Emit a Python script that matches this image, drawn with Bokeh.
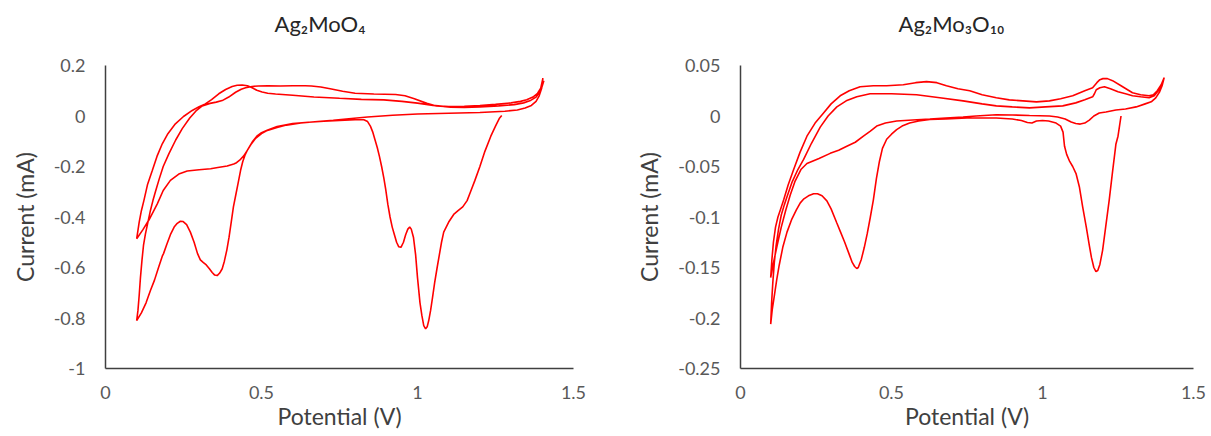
from bokeh.plotting import figure
from bokeh.layouts import row
from bokeh.models import Range1d, FixedTicker, Title
from bokeh.embed import file_html
from bokeh.resources import INLINE

# ---------------- data: Ag2MoO4 (potential V, current mA) ----------------
mo4_cathodic_1 = [
    (1.27, 0.002), (1.262, -0.01), (1.25, -0.04), (1.235, -0.08), (1.216, -0.14), (1.2, -0.2),
    (1.184, -0.255), (1.17, -0.3), (1.159, -0.335), (1.145, -0.36), (1.13, -0.375), (1.116, -0.39),
    (1.1, -0.42), (1.084, -0.46), (1.077, -0.5), (1.07, -0.55), (1.063, -0.6), (1.055, -0.66),
    (1.048, -0.72), (1.042, -0.77), (1.036, -0.81), (1.031, -0.835), (1.026, -0.843), (1.02, -0.83),
    (1.014, -0.79), (1.008, -0.74), (1.0, -0.64), (0.994, -0.55), (0.987, -0.48), (0.98, -0.448),
    (0.975, -0.44), (0.969, -0.448), (0.962, -0.47), (0.955, -0.5), (0.947, -0.52), (0.94, -0.518),
    (0.933, -0.5), (0.926, -0.47), (0.919, -0.44), (0.912, -0.4), (0.905, -0.35), (0.898, -0.29),
    (0.892, -0.245), (0.885, -0.2), (0.878, -0.16), (0.871, -0.125), (0.864, -0.095), (0.857, -0.065),
    (0.849, -0.04), (0.84, -0.022), (0.828, -0.015), (0.8, -0.015), (0.75, -0.018), (0.7, -0.021),
    (0.65, -0.025), (0.6, -0.03), (0.55, -0.042), (0.52, -0.055), (0.5, -0.066), (0.485, -0.08),
    (0.472, -0.1), (0.462, -0.12), (0.454, -0.137), (0.447, -0.155), (0.44, -0.18), (0.433, -0.215),
    (0.426, -0.26), (0.418, -0.31), (0.41, -0.36), (0.403, -0.42), (0.396, -0.48), (0.389, -0.53),
    (0.381, -0.575), (0.374, -0.605), (0.366, -0.622), (0.358, -0.632), (0.35, -0.63), (0.342, -0.62),
    (0.333, -0.605), (0.323, -0.59), (0.313, -0.58), (0.304, -0.57), (0.295, -0.545), (0.284, -0.5),
    (0.272, -0.46), (0.26, -0.43), (0.249, -0.418), (0.24, -0.417), (0.23, -0.425), (0.22, -0.44),
    (0.208, -0.47), (0.196, -0.51), (0.186, -0.545), (0.182, -0.555), (0.17, -0.6), (0.157, -0.65),
    (0.144, -0.691), (0.13, -0.74), (0.115, -0.78), (0.1, -0.81),
]
mo4_anodic_1 = [
    (0.1, -0.81), (0.104, -0.77), (0.108, -0.71), (0.112, -0.64), (0.117, -0.57), (0.122, -0.51),
    (0.128, -0.467), (0.136, -0.42), (0.144, -0.374), (0.152, -0.335), (0.16, -0.3), (0.172, -0.25),
    (0.185, -0.2), (0.203, -0.15), (0.225, -0.095), (0.246, -0.05), (0.27, -0.008), (0.29, 0.02),
    (0.31, 0.04), (0.335, 0.05), (0.355, 0.055), (0.374, 0.061), (0.395, 0.075), (0.417, 0.094),
    (0.435, 0.106), (0.449, 0.112), (0.47, 0.117), (0.49, 0.119), (0.52, 0.12), (0.56, 0.119),
    (0.6, 0.12), (0.64, 0.12), (0.66, 0.119), (0.69, 0.115), (0.72, 0.108), (0.76, 0.098),
    (0.8, 0.09), (0.86, 0.087), (0.93, 0.085), (0.96, 0.08), (0.99, 0.068), (1.03, 0.05),
    (1.06, 0.04), (1.1, 0.037), (1.15, 0.038), (1.2, 0.041), (1.25, 0.046), (1.3, 0.052),
    (1.33, 0.058), (1.35, 0.064), (1.37, 0.075), (1.385, 0.09), (1.395, 0.11), (1.402, 0.15),
]
mo4_cathodic_2 = [
    (1.402, 0.15), (1.398, 0.11), (1.39, 0.08), (1.38, 0.058), (1.365, 0.042), (1.345, 0.032),
    (1.32, 0.024), (1.28, 0.019), (1.2, 0.014), (1.1, 0.011), (1.0, 0.008), (0.92, 0.003),
    (0.84, -0.004), (0.78, -0.011), (0.73, -0.017), (0.68, -0.022), (0.626, -0.028), (0.58, -0.036),
    (0.55, -0.045), (0.519, -0.057), (0.5, -0.07), (0.48, -0.09), (0.466, -0.113), (0.454, -0.137),
    (0.443, -0.158), (0.43, -0.175), (0.42, -0.185), (0.411, -0.19), (0.39, -0.198), (0.36, -0.204),
    (0.337, -0.209), (0.3, -0.213), (0.262, -0.218), (0.235, -0.23), (0.208, -0.255), (0.185, -0.295),
    (0.166, -0.348), (0.14, -0.41), (0.12, -0.45), (0.1, -0.486),
]
mo4_anodic_2 = [
    (0.1, -0.486), (0.108, -0.42), (0.115, -0.375), (0.123, -0.335), (0.135, -0.27), (0.15, -0.216),
    (0.165, -0.16), (0.182, -0.11), (0.2, -0.07), (0.224, -0.031), (0.25, -0.002), (0.278, 0.022),
    (0.3, 0.037), (0.32, 0.048), (0.34, 0.065), (0.363, 0.088), (0.385, 0.105), (0.406, 0.117),
    (0.422, 0.122), (0.438, 0.123), (0.455, 0.12), (0.47, 0.112), (0.485, 0.102), (0.502, 0.095),
    (0.52, 0.09), (0.545, 0.087), (0.6, 0.082), (0.668, 0.075), (0.75, 0.07), (0.82, 0.066),
    (0.892, 0.064), (0.95, 0.058), (1.0, 0.051), (1.05, 0.042), (1.106, 0.035), (1.15, 0.034),
    (1.2, 0.036), (1.26, 0.04), (1.31, 0.045), (1.34, 0.052), (1.36, 0.06), (1.38, 0.075),
    (1.395, 0.1), (1.405, 0.14),
]

# ---------------- data: Ag2Mo3O10 (potential V, current mA) ----------------
mo3_cathodic_1 = [
    (1.26, 0.0), (1.255, -0.01), (1.25, -0.02), (1.243, -0.028), (1.232, -0.055), (1.221, -0.083),
    (1.21, -0.108), (1.199, -0.133), (1.19, -0.147), (1.183, -0.153), (1.177, -0.154), (1.17, -0.15),
    (1.162, -0.14), (1.155, -0.128), (1.145, -0.11), (1.133, -0.09), (1.122, -0.07), (1.111, -0.057),
    (1.1, -0.05), (1.09, -0.045), (1.08, -0.038), (1.073, -0.03), (1.068, -0.016), (1.06, -0.01),
    (1.045, -0.007), (1.02, -0.005), (1.0, -0.0045), (0.98, -0.005), (0.965, -0.007), (0.95, -0.0065),
    (0.93, -0.0045), (0.9, -0.003), (0.847, -0.002), (0.75, -0.002), (0.68, -0.003), (0.627, -0.0035),
    (0.59, -0.005), (0.56, -0.007), (0.535, -0.01), (0.517, -0.0135), (0.5, -0.018), (0.484, -0.023),
    (0.47, -0.032), (0.46, -0.045), (0.45, -0.062), (0.44, -0.083), (0.43, -0.1), (0.42, -0.116),
    (0.41, -0.13), (0.4, -0.142), (0.39, -0.15), (0.385, -0.151), (0.378, -0.149), (0.37, -0.145),
    (0.36, -0.137), (0.345, -0.125), (0.33, -0.114), (0.319, -0.106), (0.3, -0.092), (0.286, -0.084),
    (0.27, -0.079), (0.255, -0.077), (0.242, -0.077), (0.225, -0.079), (0.21, -0.082), (0.198, -0.086),
    (0.185, -0.093), (0.17, -0.102), (0.154, -0.115), (0.14, -0.13), (0.128, -0.148), (0.12, -0.162),
    (0.112, -0.178), (0.105, -0.192), (0.1, -0.206),
]
mo3_anodic_1 = [
    (0.1, -0.206), (0.103, -0.185), (0.107, -0.165), (0.112, -0.145), (0.118, -0.128), (0.126, -0.112),
    (0.135, -0.098), (0.145, -0.088), (0.154, -0.08), (0.17, -0.066), (0.19, -0.053), (0.209, -0.043),
    (0.235, -0.027), (0.264, -0.011), (0.29, 0.0), (0.319, 0.009), (0.35, 0.015), (0.385, 0.019),
    (0.429, 0.022), (0.5, 0.022), (0.583, 0.021), (0.66, 0.018), (0.737, 0.015), (0.8, 0.012),
    (0.847, 0.01), (0.9, 0.009), (0.957, 0.008), (1.01, 0.009), (1.067, 0.01), (1.11, 0.013),
    (1.14, 0.016), (1.166, 0.019), (1.172, 0.022), (1.178, 0.026), (1.19, 0.028), (1.205, 0.029),
    (1.225, 0.027), (1.25, 0.024), (1.275, 0.022), (1.298, 0.02), (1.325, 0.019), (1.353, 0.018),
    (1.37, 0.02), (1.386, 0.026), (1.397, 0.032), (1.403, 0.038),
]
mo3_cathodic_2 = [
    (1.403, 0.038), (1.396, 0.03), (1.388, 0.024), (1.375, 0.018), (1.36, 0.014), (1.34, 0.012),
    (1.31, 0.009), (1.275, 0.007), (1.243, 0.006), (1.21, 0.004), (1.188, 0.003), (1.17, 0.0),
    (1.155, -0.004), (1.14, -0.007), (1.125, -0.008), (1.11, -0.0075), (1.095, -0.006), (1.075, -0.003),
    (1.05, -0.001), (1.023, 0.0), (0.957, 0.0005), (0.9, 0.001), (0.847, 0.0012), (0.78, 0.0),
    (0.737, -0.001), (0.68, -0.002), (0.627, -0.003), (0.57, -0.004), (0.517, -0.005), (0.48, -0.007),
    (0.451, -0.01), (0.43, -0.015), (0.407, -0.02), (0.38, -0.026), (0.352, -0.03), (0.325, -0.034),
    (0.297, -0.037), (0.26, -0.042), (0.22, -0.047), (0.2, -0.053), (0.18, -0.065), (0.165, -0.078),
    (0.15, -0.093), (0.135, -0.11), (0.12, -0.13), (0.108, -0.147), (0.1, -0.16),
]
mo3_anodic_2 = [
    (0.1, -0.16), (0.104, -0.142), (0.109, -0.125), (0.116, -0.11), (0.124, -0.1), (0.133, -0.092),
    (0.143, -0.083), (0.158, -0.068), (0.176, -0.053), (0.197, -0.036), (0.22, -0.02), (0.247, -0.007),
    (0.275, 0.003), (0.3, 0.012), (0.33, 0.02), (0.36, 0.025), (0.396, 0.029), (0.44, 0.03),
    (0.484, 0.03), (0.539, 0.031), (0.58, 0.033), (0.616, 0.034), (0.65, 0.033), (0.682, 0.03),
    (0.72, 0.027), (0.759, 0.025), (0.8, 0.021), (0.847, 0.018), (0.89, 0.016), (0.935, 0.015),
    (0.98, 0.014), (1.023, 0.015), (1.06, 0.017), (1.1, 0.02), (1.14, 0.025), (1.166, 0.028),
    (1.18, 0.033), (1.19, 0.036), (1.2, 0.037), (1.215, 0.037), (1.232, 0.035), (1.26, 0.03),
    (1.298, 0.023), (1.325, 0.021), (1.353, 0.02), (1.367, 0.021), (1.38, 0.025), (1.393, 0.031),
    (1.403, 0.038),
]

# ---------------- ticks ----------------
x_ticks = [0, 0.5, 1, 1.5]
x_tick_labels = ["0", "0.5", "1", "1.5"]
mo4_y_ticks = [0.2, 0, -0.2, -0.4, -0.6, -0.8, -1]
mo4_y_tick_labels = ["0.2", "0", "-0.2", "-0.4", "-0.6", "-0.8", "-1"]
mo3_y_ticks = [0.05, 0, -0.05, -0.1, -0.15, -0.2, -0.25]
mo3_y_tick_labels = ["0.05", "0", "-0.05", "-0.1", "-0.15", "-0.2", "-0.25"]

titles = ["Ag\u2082MoO\u2084", "Ag\u2082Mo\u2083O\u2081\u2080"]
x_label = "Potential (V)"
y_label = "Current (mA)"

FONT = "Lato"
TICK_COLOR = "#595959"
LABEL_COLOR = "#404040"
AXIS_COLOR = "#404040"
RED = "#FF0000"


def make_panel(title, segments, y_ticks, y_tick_labels, frame_w, b_left, b_right, title_offset):
    p = figure(
        title=None,
        frame_width=frame_w, frame_height=303,
        min_border_left=b_left, min_border_right=b_right,
        min_border_top=65, min_border_bottom=68,
        x_range=Range1d(0, 1.5), y_range=Range1d(y_ticks[-1], y_ticks[0]),
        output_backend="svg", toolbar_location=None,
    )
    xs, ys = [], []
    for seg in segments:
        for v, i in seg:
            xs.append(v)
            ys.append(i)
    p.line(xs, ys, line_color=RED, line_width=1.6)

    p.outline_line_color = None
    p.grid.visible = False
    p.background_fill_color = "white"
    p.border_fill_color = "white"

    # spacer panel between the frame and the title, then the title itself
    p.add_layout(Title(text=" ", text_font_size="1px", standoff=19), "above")
    p.add_layout(Title(
        text=title, align="left", offset=title_offset, vertical_align="top",
        text_font=FONT, text_font_size="22px", text_font_style="normal",
        text_color="#262626", standoff=10,
    ), "above")

    for ax, ticks, labels in ((p.xaxis[0], x_ticks, x_tick_labels), (p.yaxis[0], y_ticks, y_tick_labels)):
        ax.ticker = FixedTicker(ticks=ticks)
        ax.major_label_overrides = {t: l for t, l in zip(ticks, labels)}
        ax.axis_line_color = AXIS_COLOR
        ax.axis_line_width = 1.5
        ax.major_tick_line_color = None
        ax.minor_tick_line_color = None
        ax.major_tick_out = 0
        ax.major_tick_in = 0
        ax.major_label_text_font = FONT
        ax.major_label_text_font_size = "18px"
        ax.major_label_text_color = TICK_COLOR
        ax.axis_label_text_font = FONT
        ax.axis_label_text_font_size = "23px"
        ax.axis_label_text_font_style = "normal"
        ax.axis_label_text_color = LABEL_COLOR
    p.xaxis.axis_label = x_label
    p.yaxis.axis_label = y_label
    p.xaxis.major_label_standoff = 17
    p.xaxis.axis_label_standoff = 0
    p.yaxis.major_label_standoff = 20
    p.yaxis.axis_label_standoff = 12
    return p


p1 = make_panel(titles[0], [mo4_cathodic_1, mo4_anodic_1, mo4_cathodic_2, mo4_anodic_2],
                mo4_y_ticks, mo4_y_tick_labels, 468, 105, 37, 169)
p2 = make_panel(titles[1], [mo3_cathodic_1, mo3_anodic_1, mo3_cathodic_2, mo3_anodic_2],
                mo3_y_ticks, mo3_y_tick_labels, 453, 130, 18, 158)

layout = row(p1, p2)
open("out.html", "w").write(file_html(layout, INLINE))
